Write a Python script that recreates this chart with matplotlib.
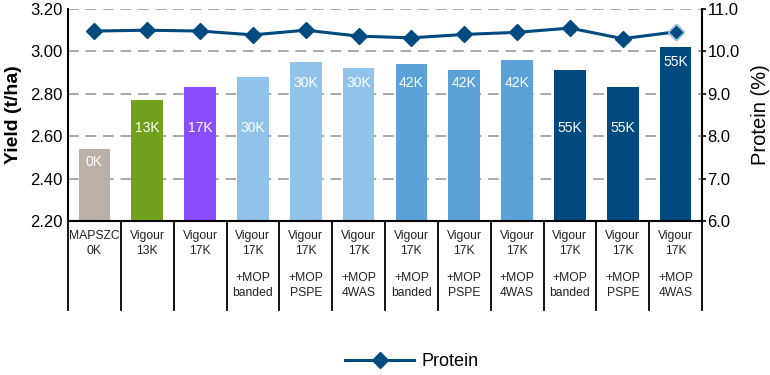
import matplotlib
matplotlib.use("Agg")
from matplotlib import pyplot as plt
from matplotlib.ticker import FormatStrFormatter

plt.rcParams['font.family'] = ['Liberation Sans', 'DejaVu Sans']

# data
line1 = ["MAPSZC", "Vigour", "Vigour", "Vigour", "Vigour", "Vigour",
         "Vigour", "Vigour", "Vigour", "Vigour", "Vigour", "Vigour"]
line2 = ["0K", "13K", "17K", "17K", "17K", "17K",
         "17K", "17K", "17K", "17K", "17K", "17K"]
line3 = ["", "", "", "+MOP", "+MOP", "+MOP",
         "+MOP", "+MOP", "+MOP", "+MOP", "+MOP", "+MOP"]
line4 = ["", "", "", "banded", "PSPE", "4WAS",
         "banded", "PSPE", "4WAS", "banded", "PSPE", "4WAS"]
yield_t = [2.54, 2.77, 2.83, 2.88, 2.95, 2.92, 2.94, 2.91, 2.96, 2.91, 2.83, 3.02]
protein = [10.48, 10.50, 10.48, 10.39, 10.50, 10.36, 10.32, 10.40, 10.45, 10.55, 10.30, 10.46]
bar_labels = ["0K", "13K", "17K", "30K", "30K", "30K",
              "42K", "42K", "42K", "55K", "55K", "55K"]
label_y = [2.478, 2.639, 2.639, 2.639, 2.851, 2.851,
           2.851, 2.851, 2.851, 2.639, 2.639, 2.95]
colors = ["#BAB0A5", "#71A01B", "#8A4DFF", "#90C4EA", "#90C4EA", "#90C4EA",
          "#5AA2D8", "#5AA2D8", "#5AA2D8", "#004A80", "#004A80", "#004A80"]

fig = plt.figure(figsize=(7.7, 3.75), dpi=100)
ax = fig.add_axes([68/770, 1-221/375, 634/770, 212/375])
x = list(range(len(yield_t)))

ax.bar(x, yield_t, width=0.6, color=colors, zorder=2)
for i in x:
    ax.text(i, label_y[i], bar_labels[i], color="white", ha="center",
            va="center", fontsize=10, zorder=3)

ax.set_xlim(-0.5, 11.5)
ax.set_ylim(2.2, 3.2)
ax.set_yticks([2.2, 2.4, 2.6, 2.8, 3.0, 3.2])
ax.yaxis.set_major_formatter(FormatStrFormatter('%.2f'))
ax.set_xticks([])
ax.yaxis.grid(True, color="#A8A8A8", linestyle=(0, (5.5, 3.5)), linewidth=1.4)
ax.set_axisbelow(True)
for s in ["top", "right"]:
    ax.spines[s].set_visible(False)
ax.spines["left"].set_linewidth(1.5)
ax.spines["bottom"].set_linewidth(1.5)
ax.tick_params(axis="y", labelsize=12, length=0, pad=4)
ax.set_ylabel("Yield (t/ha)", fontsize=14, fontweight="bold", labelpad=6)

ax2 = ax.twinx()
ax2.set_ylim(6, 11)
ax2.set_yticks([6, 7, 8, 9, 10, 11])
ax2.yaxis.set_major_formatter(FormatStrFormatter('%.1f'))
ax2.tick_params(axis="y", labelsize=12, length=3, width=1.2, pad=1)
for s in ["top", "left", "bottom"]:
    ax2.spines[s].set_visible(False)
ax2.spines["right"].set_linewidth(1.5)
ax2.set_ylabel("Protein (%)", fontsize=14.5, labelpad=8)
line, = ax2.plot(x, protein, color="#004A80", linewidth=2.2, marker="D",
                 markersize=8.5, markeredgecolor="#004A80", label="Protein",
                 zorder=4)
ax2.plot(x[-1:], protein[-1:], linestyle="none", marker="D", markersize=8.5,
         color="#004A80", markeredgecolor="#A8D2F0", markeredgewidth=1.0, zorder=5)

# category table below the axis
tr = ax.get_xaxis_transform()
for k in range(len(x) + 1):
    ax.plot([k - 0.5, k - 0.5], [0, -0.42], color="black", linewidth=1.3,
            transform=tr, clip_on=False)
rows = [(line1, -0.071), (line2, -0.142), (line3, -0.269), (line4, -0.34)]
for labels, yy in rows:
    for i in x:
        ax.text(i, yy, labels[i], transform=tr, ha="center", va="center",
                fontsize=8.7, color="#222222")

fig.legend(handles=[line], loc="center", bbox_to_anchor=(0.535, 1-362/375),
           frameon=False, fontsize=13, handlelength=3.8, handletextpad=0.4)

fig.savefig("out.png", dpi=100)
